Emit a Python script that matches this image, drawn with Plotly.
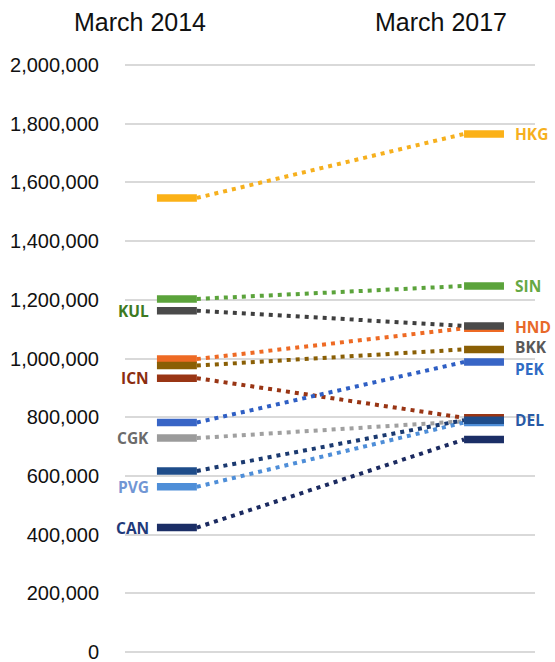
import plotly.graph_objects as go

# ---- data ----
periods = ["March 2014", "March 2017"]
airports = ["HKG", "SIN", "HND", "KUL", "BKK", "ICN", "PEK", "CGK", "PVG", "DEL", "CAN"]
pax_2014 = [1547000, 1203000, 998000, 1163000, 976000, 933000, 782000, 729000, 563000, 617000, 424000]
pax_2017 = [1765000, 1247000, 1103000, 1111000, 1031000, 798000, 988000, 786000, 782000, 790000, 724000]
label_side = ["right", "right", "right", "left", "right", "left", "right", "left", "left", "right", "left"]
ytick_vals = [0, 200000, 400000, 600000, 800000, 1000000, 1200000, 1400000, 1600000, 1800000, 2000000]

# ---- styles ----
bar_colors = ["#FBB117", "#5BA33B", "#EE6A24", "#4A4A4A", "#8A5F05", "#993514",
              "#3865C6", "#9B9B9B", "#4E8ED8", "#1E4C8A", "#1B2E66"]
dot_colors = ["#F6B01E", "#5BA33B", "#EE6A24", "#3F3F3F", "#8A5F05", "#993514",
              "#2F5FC4", "#A0A0A0", "#4E8ED8", "#1B3A70", "#1B2A60"]
label_colors = ["#F6B01E", "#66A844", "#E8692A", "#3D7A22", "#595959", "#8B2D0E",
                "#2F6BC4", "#6B6B6B", "#7196D4", "#2A5AA5", "#1F3A7A"]
label_yshift = {"PEK": -7, "BKK": 2, "HND": 1}

X0, X1 = 0.0, 1.0      # bar centres for the two periods
HW = 0.065             # half bar width (x units)

fig = go.Figure()

# dotted connectors
for i, a in enumerate(airports):
    fig.add_trace(go.Scatter(
        x=[X0 + HW, X1 - HW], y=[pax_2014[i], pax_2017[i]],
        mode="lines", line=dict(color=dot_colors[i], width=4, dash="4px,5px"),
        hoverinfo="skip", showlegend=False))

# bars
for i, a in enumerate(airports):
    fig.add_trace(go.Scatter(
        x=[X0 - HW, X0 + HW, None, X1 - HW, X1 + HW],
        y=[pax_2014[i], pax_2014[i], None, pax_2017[i], pax_2017[i]],
        mode="lines", line=dict(color=bar_colors[i], width=7.5),
        name=a, showlegend=False))

annotations = []
for i, a in enumerate(airports):
    if label_side[i] == "left":
        annotations.append(dict(x=X0 - HW, y=pax_2014[i], xref="x", yref="y",
                                text=a, showarrow=False, xanchor="right", yanchor="middle",
                                xshift=-6, yshift=label_yshift.get(a, 0),
                                font=dict(family="Open Sans", size=15.5, color=label_colors[i], weight="bold")))
    else:
        annotations.append(dict(x=X1 + HW, y=pax_2017[i], xref="x", yref="y",
                                text=a, showarrow=False, xanchor="left", yanchor="middle",
                                xshift=9, yshift=label_yshift.get(a, 0),
                                font=dict(family="Open Sans", size=15.5, color=label_colors[i], weight="bold")))

for px, txt in zip([0.037, 0.771], periods):
    annotations.append(dict(x=px, y=1.067, xref="paper", yref="paper", text=txt,
                            showarrow=False, xanchor="center", yanchor="middle",
                            font=dict(family="Liberation Sans", size=25, color="#111111")))

fig.update_layout(
    width=555, height=662,
    margin=dict(l=125, r=20, t=62, b=7),
    paper_bgcolor="white", plot_bgcolor="white",
    annotations=annotations,
    xaxis=dict(range=[-0.169, 1.166], showgrid=False, zeroline=False,
               showticklabels=False, fixedrange=True, automargin=False),
    yaxis=dict(range=[-10000, 2010000], tickvals=ytick_vals, tickformat=",d",
               showgrid=True, gridcolor="#D9D9D9", gridwidth=1.5,
               zeroline=False, showline=False, ticks="", automargin=False,
               ticklabelstandoff=25, ticklabeloverflow="allow",
               tickfont=dict(family="Liberation Sans", size=20, color="#111111")),
)

fig.write_html("out.html")
